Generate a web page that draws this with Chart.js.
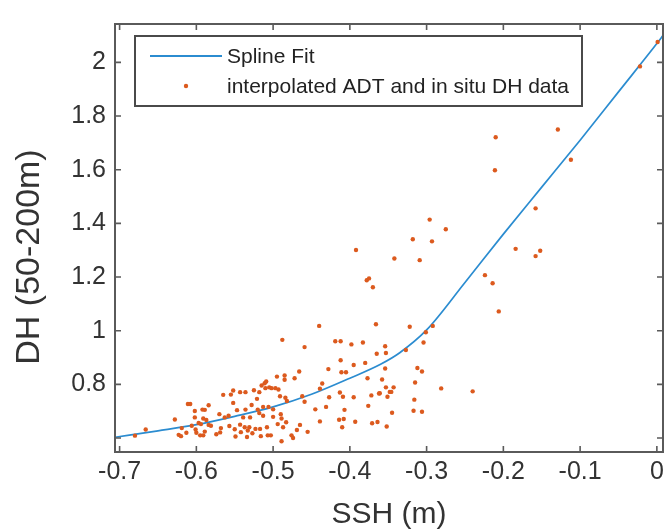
<!DOCTYPE html>
<html>
<head>
<meta charset="utf-8">
<title>DH vs SSH spline fit</title>
<script src="https://cdn.jsdelivr.net/npm/chart.js@4.4.1/dist/chart.umd.min.js"></script>
<style>
    html, body { margin: 0; padding: 0; background: #fff; }
    #wrap { width: 669px; height: 530px; }
</style>
</head>
<body>
<div id="wrap"><canvas id="dhChart" width="669" height="530"></canvas></div>
<script>
// Spline fit curve (SSH m -> DH 50-200m)
const fitSsh = [-0.706, -0.65, -0.6, -0.55, -0.5, -0.45, -0.4, -0.36, -0.335, -0.3, -0.25, -0.2, -0.15, -0.1, -0.05, 0, 0.008];
const fitDh  = [0.603, 0.627, 0.650, 0.681, 0.716, 0.763, 0.823, 0.875, 0.918, 1.003, 1.180, 1.360, 1.535, 1.710, 1.890, 2.070, 2.100];

// interpolated ADT and in situ DH samples
const obsSsh = [
    0.001, -0.022,
    -0.129, -0.210, -0.112, -0.211, -0.158, -0.296, -0.275, -0.318, -0.293, -0.342, -0.309, -0.184, -0.152, -0.158, -0.224, -0.214,
    -0.392, -0.378, -0.375, -0.370,
    -0.206, -0.322, -0.292, -0.301, -0.304, -0.327, -0.354, -0.353, -0.354, -0.312, -0.306, -0.358, -0.315, -0.353, -0.343,
    -0.348, -0.346, -0.351, -0.361, -0.281, -0.240, -0.316, -0.317, -0.306, -0.345, -0.352,
    -0.680, -0.666, -0.628, -0.611, -0.608, -0.619, -0.623, -0.620, -0.613, -0.602, -0.602, -0.606, -0.601, -0.600, -0.595,
    -0.597, -0.594, -0.591, -0.592, -0.589, -0.584, -0.587, -0.584, -0.589, -0.581, -0.591, -0.574, -0.570, -0.565, -0.563,
    -0.568, -0.569, -0.558, -0.557, -0.555, -0.552, -0.552, -0.550, -0.549, -0.547, -0.543, -0.543, -0.542, -0.539, -0.537,
    -0.536, -0.536, -0.534, -0.533, -0.531, -0.530, -0.528, -0.527, -0.525, -0.523, -0.521, -0.520, -0.518, -0.518, -0.517,
    -0.516, -0.515, -0.513, -0.513, -0.511, -0.510, -0.509, -0.508, -0.507, -0.506, -0.505, -0.503, -0.502, -0.500, -0.500,
    -0.497, -0.495, -0.494, -0.493, -0.491, -0.490, -0.489, -0.489, -0.488, -0.487, -0.485, -0.485, -0.484, -0.483, -0.482,
    -0.476, -0.474, -0.472, -0.469, -0.466, -0.465, -0.462, -0.459, -0.459, -0.455, -0.445, -0.440, -0.439, -0.439, -0.436,
    -0.431, -0.428, -0.427, -0.419, -0.414, -0.413, -0.412, -0.412, -0.411, -0.410, -0.409, -0.408, -0.407, -0.405, -0.398,
    -0.395, -0.395, -0.393, -0.383, -0.380, -0.377, -0.376, -0.371, -0.372, -0.366, -0.365, -0.364, -0.362
];
const obsDh = [
    2.076, 1.985,
    1.750, 1.721, 1.637, 1.598, 1.456, 1.414, 1.378, 1.341, 1.333, 1.269, 1.263, 1.305, 1.298, 1.278, 1.207, 1.177,
    1.301, 1.188, 1.195, 1.162,
    1.072, 1.015, 1.018, 0.994, 0.956, 0.928, 0.942, 0.917, 0.859, 0.861, 0.848, 0.818, 0.807, 0.789, 0.789,
    0.772, 0.772, 0.754, 0.767, 0.785, 0.774, 0.743, 0.702, 0.698, 0.694, 0.643,
    0.609, 0.632, 0.669, 0.727, 0.727, 0.637, 0.612, 0.607, 0.620, 0.701, 0.677, 0.646, 0.632, 0.620, 0.610,
    0.656, 0.652, 0.673, 0.706, 0.705, 0.722, 0.667, 0.649, 0.624, 0.646, 0.610, 0.614, 0.689, 0.761, 0.677,
    0.637, 0.621, 0.683, 0.645, 0.762, 0.731, 0.777, 0.633, 0.606, 0.704, 0.771, 0.650, 0.622, 0.677, 0.640,
    0.771, 0.706, 0.604, 0.628, 0.640, 0.677, 0.723, 0.618, 0.778, 0.634, 0.746, 0.706, 0.771, 0.693, 0.634,
    0.607, 0.796, 0.716, 0.683, 0.804, 0.786, 0.811, 0.640, 0.610, 0.716, 0.789, 0.610, 0.786, 0.707, 0.679,
    0.786, 0.829, 0.652, 0.781, 0.756, 0.689, 0.673, 0.588, 0.966, 0.640, 0.833, 0.817, 0.750, 0.659, 0.738,
    0.610, 0.600, 0.823, 0.630, 0.848, 0.649, 0.756, 0.939, 0.735, 0.623, 0.707, 1.018, 0.662, 0.784, 0.803,
    0.716, 0.857, 0.752, 0.961, 0.668, 0.770, 0.961, 0.890, 0.845, 0.640, 0.754, 0.671, 0.705, 0.845, 0.949,
    0.872, 0.752, 0.661, 0.956, 0.880, 0.823, 0.720, 0.655, 0.759, 1.024, 0.914, 0.660, 0.766
];

const xRange = [-0.706, 0.008];
const yRange = [0.548, 2.143];
const hiddenYTicks = [0.6];

const fmt = v => String(+v.toFixed(1));
const txtFont = '"Liberation Sans", Arial, Helvetica, sans-serif';

// MATLAB style box, inward ticks, y label and legend
const axesBox = {
    id: 'axesBox',
    afterDatasetsDraw(chart) {
        const { ctx, chartArea: a, scales: { x, y } } = chart;
        ctx.save();
        ctx.strokeStyle = '#5a5a5a';
        ctx.lineWidth = 1.6;
        ctx.beginPath();
        x.ticks.forEach(t => {
            const px = x.getPixelForValue(t.value);
            ctx.moveTo(px, a.bottom); ctx.lineTo(px, a.bottom - 6);
            ctx.moveTo(px, a.top); ctx.lineTo(px, a.top + 6);
        });
        y.ticks.forEach(t => {
            const py = y.getPixelForValue(t.value);
            ctx.moveTo(a.left, py); ctx.lineTo(a.left + 6, py);
            ctx.moveTo(a.right, py); ctx.lineTo(a.right - 6, py);
        });
        ctx.stroke();
        ctx.lineWidth = 2;
        ctx.strokeRect(a.left, a.top, a.right - a.left, a.bottom - a.top);
        ctx.restore();
    },
    afterDraw(chart) {
        const { ctx, data } = chart;
        ctx.save();
        // y axis title
        ctx.translate(39, 257);
        ctx.rotate(-Math.PI / 2);
        ctx.font = '34px ' + txtFont;
        ctx.fillStyle = '#333';
        ctx.textAlign = 'center';
        ctx.textBaseline = 'alphabetic';
        ctx.fillText('DH (50-200m)', 0, 0);
        ctx.restore();

        // legend
        const line = data.datasets[0], dots = data.datasets[1];
        ctx.save();
        ctx.fillStyle = '#fff';
        ctx.fillRect(135, 36, 447, 70);
        ctx.strokeStyle = '#4a4a4a';
        ctx.lineWidth = 2;
        ctx.strokeRect(135, 36, 447, 70);
        ctx.strokeStyle = line.borderColor;
        ctx.lineWidth = 2;
        ctx.beginPath();
        ctx.moveTo(150, 56); ctx.lineTo(222, 56);
        ctx.stroke();
        ctx.fillStyle = dots.backgroundColor;
        ctx.beginPath();
        ctx.arc(186, 86, 2.2, 0, Math.PI * 2);
        ctx.fill();
        ctx.font = '21px ' + txtFont;
        ctx.fillStyle = '#222';
        ctx.textBaseline = 'middle';
        ctx.fillText(line.label, 227, 57);
        ctx.fillText(dots.label, 227, 87);
        ctx.restore();
    }
};

new Chart(document.getElementById('dhChart'), {
    type: 'scatter',
    data: {
        datasets: [
            {
                type: 'line',
                label: 'Spline Fit',
                data: fitSsh.map((v, i) => ({ x: v, y: fitDh[i] })),
                borderColor: '#2b8cd0',
                borderWidth: 1.7,
                pointRadius: 0,
                fill: false,
                cubicInterpolationMode: 'monotone',
                order: 2
            },
            {
                label: 'interpolated ADT and in situ DH data',
                data: obsSsh.map((v, i) => ({ x: v, y: obsDh[i] })),
                backgroundColor: '#dc5a1e',
                borderWidth: 0,
                pointRadius: 2.2,
                order: 1
            }
        ]
    },
    plugins: [axesBox],
    options: {
        responsive: false,
        animation: false,
        layout: { padding: { top: 16, right: 6, left: 0, bottom: 0 } },
        plugins: { legend: { display: false }, tooltip: { enabled: false } },
        scales: {
            x: {
                type: 'linear',
                min: xRange[0],
                max: xRange[1],
                grid: { display: false, drawTicks: false },
                border: { display: false },
                ticks: {
                    stepSize: 0.1,
                    includeBounds: false,
                    padding: 5,
                    color: '#333',
                    font: { size: 25, family: txtFont },
                    callback: v => fmt(v)
                },
                title: {
                    display: true,
                    text: 'SSH (m)',
                    color: '#333',
                    font: { size: 30, family: txtFont, lineHeight: 1 },
                    padding: { top: 0, bottom: 0 }
                },
                afterFit: s => { s.height = 78; }
            },
            y: {
                type: 'linear',
                min: yRange[0],
                max: yRange[1],
                grid: { display: false, drawTicks: false },
                border: { display: false },
                ticks: {
                    stepSize: 0.2,
                    includeBounds: false,
                    padding: 9,
                    color: '#333',
                    font: { size: 25, family: txtFont },
                    callback: v => hiddenYTicks.some(h => Math.abs(h - v) < 1e-6) ? '' : fmt(v)
                },
                afterFit: s => { s.width = 115; }
            }
        }
    }
});
</script>
</body>
</html>
